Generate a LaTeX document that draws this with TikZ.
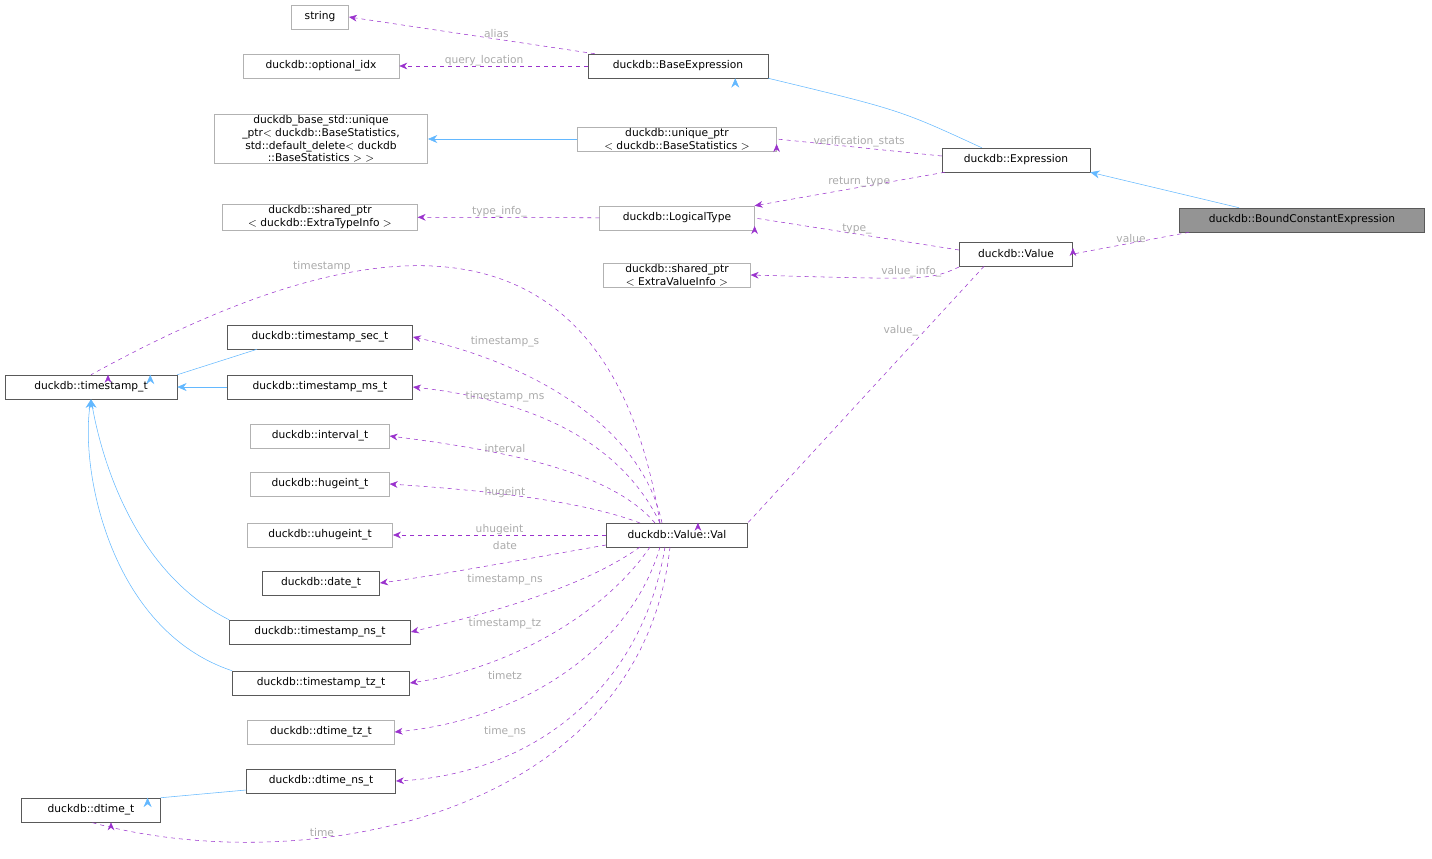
\documentclass[tikz,border=0pt]{standalone}
\usepackage{fontspec}
\setmainfont{DejaVu Sans}
\usetikzlibrary{arrows.meta}
\definecolor{mem}{HTML}{9A32CD}
\definecolor{inh}{HTML}{63B8FF}
\definecolor{lblgrey}{HTML}{AAAAAA}
\begin{document}
\begin{tikzpicture}[x=0.75pt, y=-0.75pt,
   every node/.style = {font=\fontsize{8}{9.5}\selectfont, inner sep=1pt},
   cls/.style = {draw=black!65, rectangle, minimum height=18pt, align=center},
   ext/.style = {draw=black!30, rectangle, minimum height=18pt, align=center},
   usage/.style = {draw=mem, dashed, -{Stealth[length=6pt, width=5pt]}},
   inherit/.style = {draw=inh, -{Stealth[length=7pt, width=6pt, fill=inh]}},
   lbl/.style = {text=lblgrey}]
   \useasboundingbox (0,0) rectangle (1432,858);
   \node[ext, minimum width=43pt]  (string) at (320,17) {string};
   \node[ext, minimum width=117pt] (optidx) at (321,66) {duckdb::optional\_idx};
   \node[cls, minimum width=135pt] (baseexpr) at (678,66) {duckdb::BaseExpression};
   \node[ext, minimum width=160pt] (stdptr) at (321,139) {duckdb\_base\_std::unique\\\_ptr$<$ duckdb::BaseStatistics,\\std::default\_delete$<$ duckdb\\::BaseStatistics $>$ $>$};
   \node[ext, minimum width=149pt] (uptr) at (677,139) {duckdb::unique\_ptr\\$<$ duckdb::BaseStatistics $>$};
   \node[cls, minimum width=111pt] (expr) at (1016,160) {duckdb::Expression};
   \node[cls, minimum width=184pt, fill=black!42] (bound) at (1302,220) {duckdb::BoundConstantExpression};
   \node[ext, minimum width=146pt] (typeinfo) at (320,217) {duckdb::shared\_ptr\\$<$ duckdb::ExtraTypeInfo $>$};
   \node[ext, minimum width=116pt] (ltype) at (677,218) {duckdb::LogicalType};
   \node[cls, minimum width=85pt]  (value) at (1016,254) {duckdb::Value};
   \node[ext, minimum width=110pt] (valinfo) at (677,275) {duckdb::shared\_ptr\\$<$ ExtraValueInfo $>$};
   \node[cls, minimum width=129pt] (ts) at (91,387) {duckdb::timestamp\_t};
   \node[cls, minimum width=139pt] (tssec) at (320,337) {duckdb::timestamp\_sec\_t};
   \node[cls, minimum width=139pt] (tsms) at (320,387) {duckdb::timestamp\_ms\_t};
   \node[ext, minimum width=104pt] (interval) at (320,436) {duckdb::interval\_t};
   \node[ext, minimum width=104pt] (hugeint) at (320,484) {duckdb::hugeint\_t};
   \node[ext, minimum width=109pt] (uhugeint) at (320,535) {duckdb::uhugeint\_t};
   \node[cls, minimum width=106pt] (val) at (677,535) {duckdb::Value::Val};
   \node[cls, minimum width=88pt]  (date) at (321,583) {duckdb::date\_t};
   \node[cls, minimum width=136pt] (tsns) at (320,632) {duckdb::timestamp\_ns\_t};
   \node[cls, minimum width=133pt] (tstz) at (321,683) {duckdb::timestamp\_tz\_t};
   \node[ext, minimum width=110pt] (dtimetz) at (321,732) {duckdb::dtime\_tz\_t};
   \node[cls, minimum width=112pt] (dtimens) at (321,781) {duckdb::dtime\_ns\_t};
   \node[cls, minimum width=104pt] (dtime) at (91,810) {duckdb::dtime\_t};

   % inheritance
   \draw[inherit] (uptr) -- (stdptr);
   \draw[inherit] (expr.north west) ++(40,0) .. controls (900,110) .. (baseexpr.south east) ++(-33,0);
   \draw[inherit] (bound.north west) ++(60,0) -- (expr.south east);
   \draw[inherit] (tssec.south west) ++(30,0) -- (ts.north east) ++(-27,0);
   \draw[inherit] (tsms) -- (ts);
   \draw[inherit] (tsns.north west) .. controls (130,570) and (100,450) .. (ts.south);
   \draw[inherit] (tstz.north west) .. controls (110,630) and (80,470) .. (ts.south);
   \draw[inherit] (dtimens.west) ++(0,9) -- (dtime.north east) ++(-13,0);

   % members
   \draw[usage] (baseexpr.north west) ++(7,0) -- (string.east) node[lbl, pos=0.4, above] {alias};
   \draw[usage] (baseexpr) -- (optidx) node[lbl, pos=0.55, above=-1pt] {query\_location};
   \draw[usage] (expr.west) ++(0,-4) -- (uptr.east) ++(0,5) node[lbl, pos=0.5, above=-1pt] {verification\_stats};
   \draw[usage] (expr.south west) ++(3,0) -- (ltype.north east) node[lbl, pos=0.45, above=-1pt] {return\_type};
   \draw[usage] (bound.south west) ++(10,0) -- (value.east) ++(0,-6) node[lbl, pos=0.5, above=-1pt] {value};
   \draw[usage] (value.west) ++(0,-4) -- (ltype.east) ++(0,8) node[lbl, pos=0.5, above=-1pt] {type\_};
   \draw[usage] (value.west) ++(0,13) .. controls (930,280) .. (valinfo.east) node[lbl, pos=0.5, above=-1pt] {value\_info\_};
   \draw[usage] (ltype) -- (typeinfo) node[lbl, pos=0.55, above=-1pt] {type\_info\_};
   \draw[usage] (value.south west) ++(25,0) -- (val.north east) ++(-50,0) node[lbl, pos=0.25, left=4pt] {value\_};

   \foreach \tgt/\txt/\sx/\sy/\ax/\ay/\bx/\by/\lx/\ly in {
      tssec/timestamp\_s/662/523/640/420/520/360/505/342,
      tsms/timestamp\_ms/660/523/620/440/530/400/505/397,
      interval/interval/655/523/610/470/500/450/505/449,
      hugeint/hugeint/640/523/580/500/480/490/505/493,
      date/date/606/545/520/560/440/575/505/546,
      tsns/timestamp\_ns/640/547/580/590/480/615/505/580,
      tstz/timestamp\_tz/650/547/600/620/500/670/505/624,
      dtimetz/timetz/660/547/630/650/520/720/505/676,
      dtimens/time\_ns/665/547/640/700/520/775/505/732}
     \draw[usage] (\sx,\sy) .. controls (\ax,\ay) and (\bx,\by) .. (\tgt.east)
        node[lbl] at (\lx,\ly) {\txt};
   \draw[usage] (val) -- (uhugeint) node[lbl, pos=0.5, above=-1pt] {uhugeint};
   \draw[usage] (660,523) .. controls (600,150) and (300,260) .. (ts.north) ++(17,0)
      node[lbl] at (322,267) {timestamp};
   \draw[usage] (670,547) .. controls (640,820) and (300,880) .. (dtime.south) ++(20,0)
      node[lbl] at (322,833) {time};
\end{tikzpicture}
\end{document}
